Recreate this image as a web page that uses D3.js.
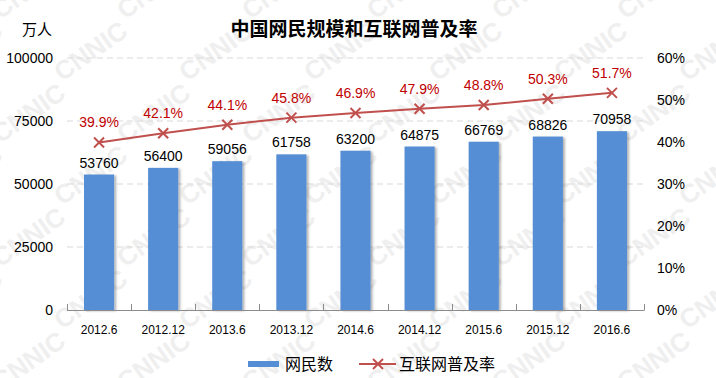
<!DOCTYPE html>
<html><head><meta charset="utf-8">
<script src="https://cdn.jsdelivr.net/npm/d3@7"></script>
<style>body{margin:0;background:#fff}svg{display:block}</style>
</head><body>
<script>
const categories = ["2012.6","2012.12","2013.6","2013.12","2014.6","2014.12","2015.6","2015.12","2016.6"];
const users = [53760,56400,59056,61758,63200,64875,66769,68826,70958];
const rates = [39.9,42.1,44.1,45.8,46.9,47.9,48.8,50.3,51.7];
const leftTicks = [0,25000,50000,75000,100000];
const rightTicks = [0,10,20,30,40,50,60];

const W=716,H=378;
const m={l:67,r:72,t:58,b:68};
const svg=d3.select("body").append("svg").attr("width",W).attr("height",H);
const font="Arial, 'Liberation Sans', sans-serif";
const cjk="'Noto Sans CJK SC', sans-serif";

// watermark
const wm=svg.append("g").attr("fill","#efefef").attr("font-family",font).attr("font-weight","bold").attr("font-size",26);
for(let r=-1;r<8;r++){for(let c=-1;c<8;c++){
  const x=c*125+(r%2)*62, y=r*62+20;
  wm.append("text").attr("transform",`translate(${x},${y}) rotate(-35)`).text("CNNIC");
}}

const x=d3.scaleBand().domain(categories).range([m.l,W-m.r]).paddingInner(0.53).paddingOuter(0.265);
const xb=d3.scaleBand().domain(categories).range([m.l,W-m.r]);
const y=d3.scaleLinear().domain([0,100000]).range([H-m.b,m.t]);
const y2=d3.scaleLinear().domain([0,60]).range([H-m.b,m.t]);

// gridlines
svg.append("g").selectAll("line").data(leftTicks.slice(1)).join("line")
 .attr("x1",m.l).attr("x2",W-m.r).attr("y1",d=>y(d)).attr("y2",d=>y(d))
 .attr("stroke","#d9d9d9").attr("stroke-dasharray","6,4");

// left axis labels
svg.append("g").selectAll("text").data(leftTicks).join("text")
 .attr("x",53).attr("y",d=>y(d)+5).attr("text-anchor","end")
 .attr("font-family",font).attr("font-size",14).attr("fill","#000").text(d=>d);
// right axis labels
svg.append("g").selectAll("text").data(rightTicks).join("text")
 .attr("x",657).attr("y",d=>y2(d)+5).attr("text-anchor","start")
 .attr("font-family",font).attr("font-size",14).attr("fill","#000").text(d=>d+"%");

// shadow filter
const defs=svg.append("defs");
const f=defs.append("filter").attr("id","sh").attr("x","-20%").attr("y","-20%").attr("width","150%").attr("height","150%");
f.append("feDropShadow").attr("dx",2).attr("dy",1).attr("stdDeviation",1.2).attr("flood-color","#000").attr("flood-opacity",0.3);

// bars
svg.append("g").selectAll("rect").data(users).join("rect")
 .attr("x",(d,i)=>x(categories[i])).attr("width",x.bandwidth())
 .attr("y",d=>y(d)).attr("height",d=>y(0)-y(d))
 .attr("fill","#558ed5").attr("filter","url(#sh)");

// x axis line & ticks
const ax=svg.append("g").attr("stroke","#8c8c8c");
ax.append("line").attr("x1",m.l).attr("x2",W-m.r).attr("y1",y(0)+0.5).attr("y2",y(0)+0.5);
const bounds=categories.map(c=>xb(c)).concat([W-m.r]);
ax.selectAll("line.t").data(bounds).join("line").attr("class","t")
 .attr("x1",d=>Math.round(d)+0.5).attr("x2",d=>Math.round(d)+0.5).attr("y1",y(0)-6).attr("y2",y(0)+0.5);

// x labels
svg.append("g").selectAll("text").data(categories).join("text")
 .attr("x",d=>xb(d)+xb.bandwidth()/2).attr("y",334).attr("text-anchor","middle")
 .attr("font-family",font).attr("font-size",12).attr("fill","#000").text(d=>d);

// bar labels
svg.append("g").selectAll("text").data(users).join("text")
 .attr("x",(d,i)=>xb(categories[i])+xb.bandwidth()/2).attr("y",d=>y(d)-7).attr("text-anchor","middle")
 .attr("font-family",font).attr("font-size",14).attr("fill","#000").text(d=>d);

// line
const cx=i=>xb(categories[i])+xb.bandwidth()/2;
const lineColor="#c0504d";
svg.append("path").datum(rates).attr("fill","none").attr("stroke",lineColor).attr("stroke-width",2)
 .attr("d",d3.line().x((d,i)=>cx(i)).y(d=>y2(d)));
const mk=svg.append("g").attr("stroke",lineColor).attr("stroke-width",2);
rates.forEach((d,i)=>{
  const px=cx(i),py=y2(d),s=5;
  mk.append("line").attr("x1",px-s).attr("y1",py-s).attr("x2",px+s).attr("y2",py+s);
  mk.append("line").attr("x1",px-s).attr("y1",py+s).attr("x2",px+s).attr("y2",py-s);
});
svg.append("g").selectAll("text").data(rates).join("text")
 .attr("x",(d,i)=>cx(i)).attr("y",d=>y2(d)-15).attr("text-anchor","middle")
 .attr("font-family",font).attr("font-size",14).attr("fill","#c00000").text(d=>d.toFixed(1)+"%");

// title
svg.append("text").attr("x",354).attr("y",36).attr("text-anchor","middle")
 .attr("font-family",cjk).attr("font-weight","bold").attr("font-size",19).attr("fill","#000").text("中国网民规模和互联网普及率");
svg.append("text").attr("x",22).attr("y",35).attr("font-family",cjk).attr("font-size",15).attr("fill","#000").text("万人");

// legend
const lg=svg.append("g");
lg.append("rect").attr("x",248).attr("y",361).attr("width",31).attr("height",6).attr("fill","#558ed5");
lg.append("text").attr("x",285).attr("y",370).attr("font-family",cjk).attr("font-size",16).attr("fill","#000").text("网民数");
lg.append("line").attr("x1",359).attr("x2",396).attr("y1",364).attr("y2",364).attr("stroke",lineColor).attr("stroke-width",2);
lg.append("line").attr("x1",373).attr("x2",383).attr("y1",359).attr("y2",369).attr("stroke",lineColor).attr("stroke-width",2);
lg.append("line").attr("x1",373).attr("x2",383).attr("y1",369).attr("y2",359).attr("stroke",lineColor).attr("stroke-width",2);
lg.append("text").attr("x",399).attr("y",370).attr("font-family",cjk).attr("font-size",16).attr("fill","#000").text("互联网普及率");
</script>
</body></html>
